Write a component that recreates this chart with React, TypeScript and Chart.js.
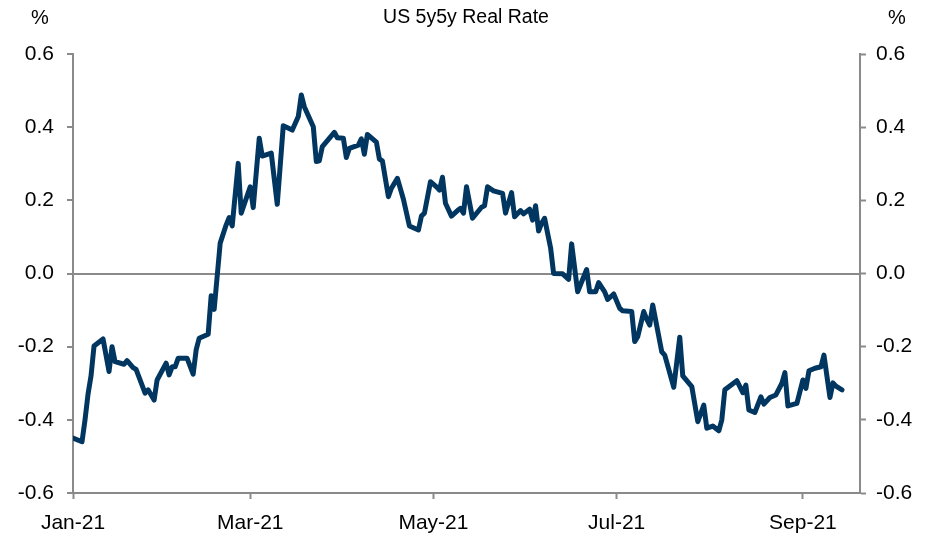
import React, { useEffect, useRef } from "react";
import { Chart, registerables } from "chart.js";

Chart.register(...registerables);

// Day offsets from 1 Jan 2021 and the 5y5y real rate (%)
const dayOffsets = [
  0, 3, 4, 5, 6, 7, 10, 12, 13, 14, 17, 18, 20, 21, 24, 25, 27, 28, 31, 32, 33, 34, 35, 38, 40, 41, 42, 45, 46, 47,
  49, 51, 52, 53, 55, 56, 59, 60, 62, 63, 66, 68, 70, 73, 75, 76, 77, 80, 81, 82, 83, 87, 88, 90, 91, 92, 95, 96, 97, 98,
  101, 102, 103, 105, 106, 108, 110, 112, 115, 116, 117, 119, 121, 122, 123, 124, 126, 128, 129, 130, 131, 133, 136, 137, 138, 140, 143, 144, 146, 147,
  149, 150, 152, 153, 154, 155, 156, 157, 158, 159, 160, 163, 165, 166, 168, 171, 172, 174, 175, 177, 178, 180, 182, 183, 186, 187, 188, 190, 191, 192,
  193, 196, 197, 200, 202, 203, 206, 208, 210, 211, 212, 213, 215, 216, 217, 221, 222, 223, 224, 225, 227, 229, 230, 232, 234, 236, 237, 238, 241, 243,
  244, 245, 247, 249, 250, 252, 253, 254, 256,
];

const realRate = [
  -0.45, -0.46, -0.40, -0.33, -0.28, -0.198, -0.179, -0.268, -0.20, -0.241, -0.248, -0.238, -0.257, -0.262, -0.327, -0.318, -0.346, -0.291, -0.245, -0.277, -0.255, -0.255, -0.232, -0.232, -0.275, -0.209, -0.177, -0.166, -0.061, -0.098,
  0.083, 0.133, 0.153, 0.13, 0.301, 0.165, 0.237, 0.18, 0.37, 0.321, 0.329, 0.189, 0.404, 0.392, 0.429, 0.488, 0.456, 0.401, 0.306, 0.308, 0.347, 0.386, 0.371, 0.37, 0.317, 0.342, 0.351, 0.368, 0.326, 0.38,
  0.359, 0.313, 0.308, 0.21, 0.233, 0.26, 0.203, 0.13, 0.119, 0.157, 0.165, 0.251, 0.237, 0.228, 0.263, 0.192, 0.157, 0.172, 0.178, 0.165, 0.237, 0.151, 0.181, 0.185, 0.237, 0.226, 0.219, 0.165, 0.221, 0.155,
  0.172, 0.163, 0.176, 0.146, 0.185, 0.116, 0.137, 0.151, 0.11, 0.07, 0.0, -0.001, -0.016, 0.081, -0.05, 0.011, -0.05, -0.05, -0.025, -0.05, -0.071, -0.056, -0.095, -0.102, -0.104, -0.186, -0.173, -0.104, -0.125, -0.141,
  -0.086, -0.214, -0.223, -0.311, -0.174, -0.28, -0.309, -0.405, -0.36, -0.423, -0.42, -0.417, -0.43, -0.40, -0.318, -0.293, -0.309, -0.326, -0.305, -0.373, -0.38, -0.337, -0.357, -0.339, -0.332, -0.30, -0.271, -0.362, -0.355, -0.291,
  -0.314, -0.266, -0.259, -0.255, -0.223, -0.339, -0.299, -0.308, -0.318,
];

const monthTickDays = [0, 59, 120, 181, 243];
const monthTickLabels = ["Jan-21", "Mar-21", "May-21", "Jul-21", "Sep-21"];

const chartTitle = "US 5y5y Real Rate";
const unitLabel = "%";

const FONT = "'Liberation Sans', Arial, sans-serif";
const AXIS_GREY = "#8a8a8a";
const LINE_COLOR = "#003660";

export default function App() {
  const canvasRef = useRef<HTMLCanvasElement | null>(null);

  useEffect(() => {
    if (!canvasRef.current) return;

    const headerPlugin = {
      id: "header",
      afterDraw(chart: any) {
        const ctx = chart.ctx;
        ctx.save();
        ctx.fillStyle = "#000";
        ctx.textBaseline = "middle";
        ctx.textAlign = "center";
        ctx.font = `19.5px ${FONT}`;
        ctx.fillText(chartTitle, 466, 18);
        ctx.font = `20px ${FONT}`;
        ctx.fillText(unitLabel, 40, 18);
        ctx.fillText(unitLabel, 897, 18);
        ctx.restore();
      },
    };

    const yTickCallback = (v: any) => {
      const n = Number(v);
      return Math.abs(n) < 1e-9 ? "0.0" : n.toFixed(1);
    };

    const chart = new Chart(canvasRef.current, {
      type: "line",
      data: {
        datasets: [
          {
            data: dayOffsets.map((d, i) => ({ x: d, y: realRate[i] })),
            borderColor: LINE_COLOR,
            borderWidth: 5,
            pointRadius: 0,
            tension: 0,
            borderJoinStyle: "round",
            borderCapStyle: "round",
            yAxisID: "y",
          },
        ],
      },
      options: {
        responsive: false,
        animation: false,
        maintainAspectRatio: false,
        layout: { padding: { top: 54, left: 0, right: 0, bottom: 0 } },
        plugins: {
          legend: { display: false },
          title: { display: false },
          tooltip: { enabled: false },
        },
        scales: {
          x: {
            type: "linear",
            min: 0,
            max: 262,
            afterBuildTicks: (axis: any) => {
              axis.ticks = monthTickDays.map((v) => ({ value: v }));
            },
            afterFit: (scale: any) => {
              scale.height = 44;
            },
            ticks: {
              autoSkip: false,
              maxRotation: 0,
              padding: 12,
              color: "#000",
              font: { family: FONT, size: 21 },
              callback: (v: any) => {
                const idx = monthTickDays.indexOf(Number(v));
                return idx >= 0 ? monthTickLabels[idx] : "";
              },
            },
            grid: {
              drawOnChartArea: false,
              drawTicks: true,
              tickLength: 6,
              tickColor: AXIS_GREY,
              tickWidth: 2,
            },
            border: { display: true, color: AXIS_GREY, width: 2 },
          },
          y: {
            position: "left",
            min: -0.6,
            max: 0.6,
            afterFit: (scale: any) => {
              scale.width = 73;
            },
            ticks: {
              stepSize: 0.2,
              padding: 13,
              color: "#000",
              font: { family: FONT, size: 21 },
              callback: yTickCallback,
            },
            grid: {
              drawOnChartArea: true,
              color: (ctx: any) =>
                ctx.tick && Math.abs(ctx.tick.value) < 1e-9 ? AXIS_GREY : "rgba(0,0,0,0)",
              lineWidth: 2,
              tickLength: 6,
              tickColor: AXIS_GREY,
              tickWidth: 2,
            },
            border: { display: true, color: AXIS_GREY, width: 2 },
          },
          y2: {
            position: "right",
            min: -0.6,
            max: 0.6,
            afterFit: (scale: any) => {
              scale.width = 81;
            },
            ticks: {
              stepSize: 0.2,
              padding: 10,
              color: "#000",
              font: { family: FONT, size: 21 },
              callback: yTickCallback,
            },
            grid: {
              drawOnChartArea: false,
              tickLength: 6,
              tickColor: AXIS_GREY,
              tickWidth: 2,
            },
            border: { display: true, color: AXIS_GREY, width: 2 },
          },
        },
      } as any,
      plugins: [headerPlugin],
    });

    return () => chart.destroy();
  }, []);

  return (
    <div style={{ position: "fixed", left: 0, top: 0, width: 941, height: 537, background: "#fff" }}>
      <canvas ref={canvasRef} width={941} height={537} style={{ width: 941, height: 537 }} />
    </div>
  );
}
